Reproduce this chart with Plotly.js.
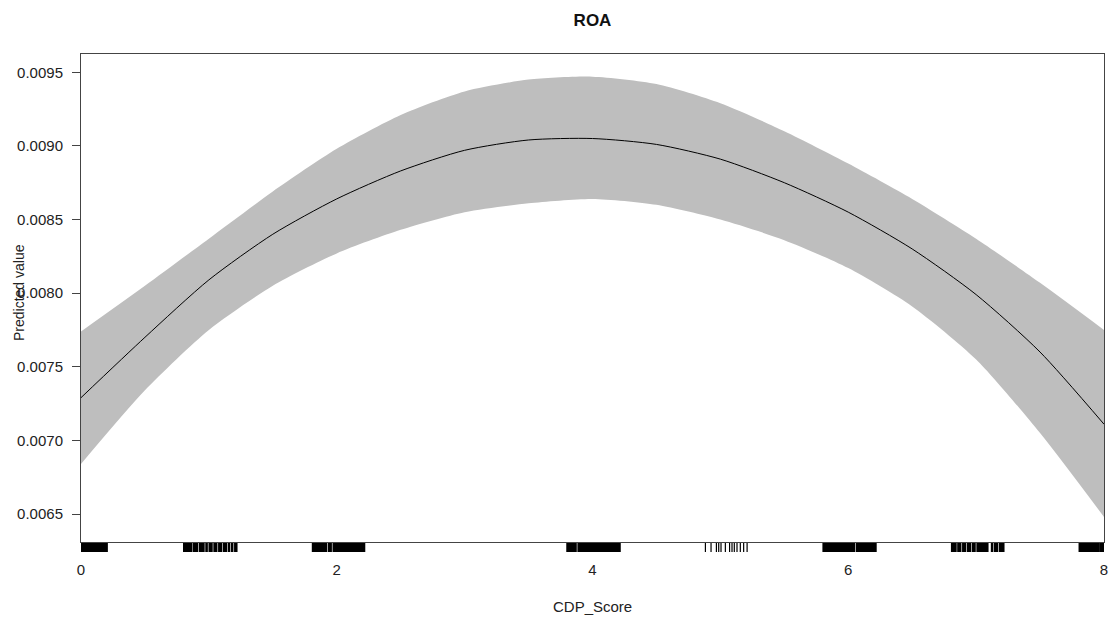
<!DOCTYPE html>
<html>
<head>
<meta charset="utf-8">
<script src="https://cdn.plot.ly/plotly-3.0.1.min.js"></script>
<style>
html,body{margin:0;padding:0;background:#fff;}
#chart{width:1111px;height:621px;}
</style>
</head>
<body>
<div id="chart"></div>
<script>
// CDP_Score grid
const cdpScore = [0, 0.5, 1, 1.5, 2, 2.5, 3, 3.5, 4, 4.5, 5, 5.5, 6, 6.5, 7, 7.5, 8];
// Predicted ROA and confidence band
const predicted = [0.00729, 0.00770, 0.00809, 0.00840, 0.00864, 0.00883, 0.00897, 0.00904, 0.00905, 0.00901, 0.00891, 0.00875, 0.00855, 0.00830, 0.00799, 0.00760, 0.00711];
const upperCI   = [0.00774, 0.00805, 0.00837, 0.00869, 0.00898, 0.00921, 0.00937, 0.00945, 0.00947, 0.00942, 0.00929, 0.00910, 0.00888, 0.00864, 0.00837, 0.00807, 0.00775];
const lowerCI   = [0.00684, 0.00734, 0.00775, 0.00805, 0.00827, 0.00843, 0.00855, 0.00861, 0.00864, 0.00860, 0.00850, 0.00836, 0.00817, 0.00791, 0.00755, 0.00705, 0.00648];

// Rug: observed (jittered) CDP_Score values
const rug0 = [0.000,0.012,0.025,0.037,0.050,0.062,0.075,0.087,0.100,0.112,0.125,0.137,0.150,0.162,0.175,0.187,0.200];
const rug1 = [0.808,0.820,0.833,0.845,0.858,0.882,0.895,0.907,0.932,0.945,0.957,0.982,1.007,1.020,1.045,1.057,1.082,1.095,1.120,1.132,1.157,1.182,1.207,1.214];
const rug2 = [1.815,1.827,1.840,1.852,1.865,1.877,1.890,1.902,1.915,1.940,1.952,1.977,1.990,2.002,2.015,2.027,2.040,2.052,2.065,2.077,2.090,2.102,2.115,2.127,2.140,2.152,2.165,2.177,2.190,2.202,2.213];
const rug4 = [3.805,3.817,3.830,3.842,3.855,3.867,3.892,3.905,3.917,3.930,3.942,3.955,3.967,3.980,3.992,4.005,4.017,4.030,4.042,4.055,4.067,4.080,4.092,4.105,4.117,4.130,4.142,4.155,4.167,4.180,4.192,4.205,4.211];
const rug5 = [4.883,4.927,4.969,4.987,5.005,5.039,5.072,5.091,5.109,5.130,5.156,5.182,5.209];
const rug6 = [5.808,5.820,5.833,5.845,5.858,5.870,5.883,5.895,5.908,5.920,5.933,5.945,5.958,5.970,5.983,5.995,6.008,6.020,6.033,6.045,6.070,6.083,6.095,6.108,6.120,6.133,6.145,6.158,6.170,6.183,6.195,6.208,6.212];
const rug7 = [6.813,6.825,6.838,6.862,6.875,6.900,6.912,6.937,6.950,6.975,6.987,7.012,7.025,7.037,7.050,7.062,7.075,7.087,7.125,7.150,7.162,7.187,7.200,7.212];
const rug8 = [7.811,7.827,7.845,7.857,7.870,7.882,7.895,7.907,7.920,7.932,7.945,7.957,7.975,7.987,7.999];

const xTickVals = [0, 2, 4, 6, 8];
const yTickVals = [0.0065, 0.0070, 0.0075, 0.0080, 0.0085, 0.0090, 0.0095];

const denseRug = [].concat(rug0, rug1, rug2, rug4, rug6, rug7, rug8);
const sparseRug = rug5;

const FONT = 'Liberation Sans, Arial, sans-serif';
const TXT = '#222';
const SMOOTH = 0.7;

function rugTrace(xs, w) {
  return {x: xs, y: xs.map(() => 0.5), type: 'scatter', mode: 'markers', xaxis: 'x', yaxis: 'y2',
    marker: {symbol: 'line-ns-open', size: 30, color: '#000', line: {width: w, color: '#000'}},
    showlegend: false};
}

const traces = [
  {x: cdpScore, y: lowerCI, type: 'scatter', mode: 'lines',
   line: {width: 0, shape: 'spline', smoothing: SMOOTH, color: '#BEBEBE'}, hoverinfo: 'skip', showlegend: false},
  {x: cdpScore, y: upperCI, type: 'scatter', mode: 'lines', fill: 'tonexty',
   fillcolor: '#BEBEBE', line: {width: 0, shape: 'spline', smoothing: SMOOTH, color: '#BEBEBE'}, showlegend: false},
  {x: cdpScore, y: predicted, type: 'scatter', mode: 'lines',
   line: {width: 1, shape: 'spline', smoothing: SMOOTH, color: '#000'}, showlegend: false},
  rugTrace(denseRug, 2.6),
  rugTrace(sparseRug, 1.2)
];

const layout = {
  width: 1111, height: 621,
  margin: {l: 81, r: 7, t: 54, b: 69},
  paper_bgcolor: '#fff', plot_bgcolor: '#fff',
  font: {family: FONT, size: 15, color: TXT},
  title: {text: '<b>ROA</b>', font: {family: FONT, size: 17, color: '#111'},
          x: 0.5, xref: 'paper', xanchor: 'center', y: 1 - 20/621, yanchor: 'middle'},
  xaxis: {range: [0, 8], anchor: 'y', showgrid: false, zeroline: false,
          showline: true, mirror: true, linecolor: '#444', linewidth: 1,
          ticks: '', tickvals: xTickVals, ticktext: xTickVals.map(String),
          ticklabelstandoff: 14, tickfont: {size: 15, color: TXT}},
  yaxis: {domain: [0.0201, 1], range: [0.00631, 0.009624], showgrid: false, zeroline: false,
          showline: true, mirror: true, linecolor: '#444', linewidth: 1,
          ticks: 'outside', ticklen: 8, tickcolor: '#444', tickwidth: 1,
          tickvals: yTickVals, tickformat: '.4f', ticklabelstandoff: 6,
          tickfont: {size: 15, color: TXT}},
  yaxis2: {domain: [0, 0.0181], range: [0, 1], visible: false, fixedrange: true},
  annotations: [
    {text: 'CDP_Score', xref: 'paper', yref: 'paper', x: 0.5, y: (552 - 606) / 498,
     xanchor: 'center', yanchor: 'middle', showarrow: false, font: {size: 15, color: TXT}},
    {text: 'Predicted value', xref: 'paper', yref: 'paper', x: (19 - 81) / 1023, y: 0.52,
     xanchor: 'center', yanchor: 'middle', textangle: -90, showarrow: false,
     font: {size: 14, color: TXT}}
  ]
};

Plotly.newPlot('chart', traces, layout, {displayModeBar: false, staticPlot: true});
</script>
</body>
</html>
